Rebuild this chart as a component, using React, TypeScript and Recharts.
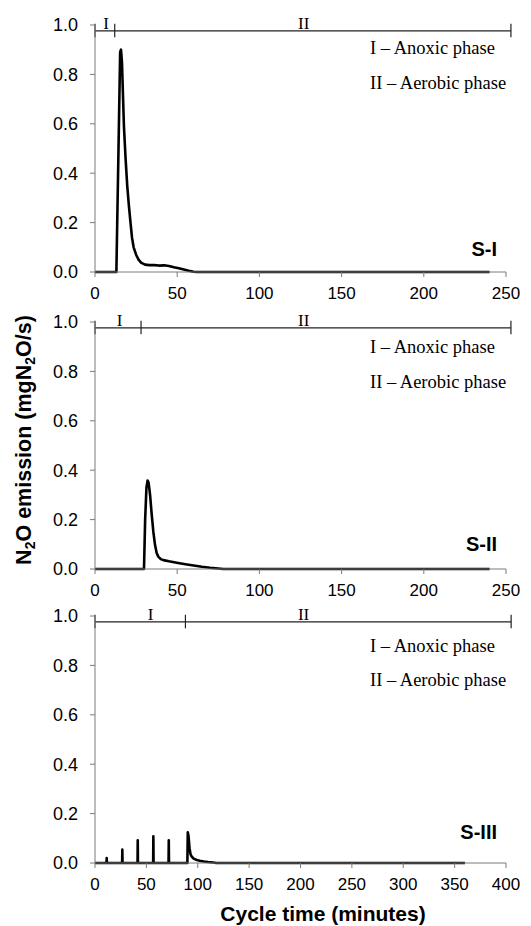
import React from 'react';
import { LineChart, Line, XAxis, YAxis, ReferenceLine, ReferenceDot } from 'recharts';

// ---- Data ----
const s1Time = [0, 13, 14.3, 15.3, 15.8, 16.4, 17.6, 18.6, 19.6, 20.6, 21.6, 22.5, 23.5, 25, 26.5, 28, 30.4, 33, 36, 39, 42, 45, 48, 51, 54, 57, 60, 62, 240];
const s1Value = [0, 0, 0.5, 0.89, 0.9, 0.85, 0.59, 0.46, 0.35, 0.27, 0.2, 0.14, 0.1, 0.07, 0.05, 0.038, 0.03, 0.028, 0.028, 0.026, 0.027, 0.024, 0.019, 0.015, 0.01, 0.005, 0.001, 0, 0];

const s2Time = [0, 29.8, 30.5, 31.3, 32, 32.6, 33.5, 34.5, 35.5, 36.5, 37.5, 38.5, 40, 41.6, 45, 49.7, 55, 60, 65, 70, 75, 78, 240];
const s2Value = [0, 0, 0.2, 0.33, 0.358, 0.35, 0.3, 0.22, 0.15, 0.098, 0.065, 0.05, 0.04, 0.036, 0.031, 0.025, 0.019, 0.014, 0.009, 0.005, 0.002, 0, 0];

const s3Time = [0, 11.2, 11.4, 11.6, 26.4, 26.6, 26.8, 41.4, 41.6, 41.8, 56.6, 56.8, 57.0, 71.6, 71.8, 72.0, 89.9, 90.3, 91, 92, 93, 94, 96, 99, 102, 106, 110, 115, 118, 360];
const s3Value = [0, 0, 0.02, 0, 0, 0.054, 0, 0, 0.092, 0, 0, 0.108, 0, 0, 0.092, 0, 0, 0.124, 0.11, 0.06, 0.035, 0.027, 0.018, 0.012, 0.009, 0.006, 0.004, 0.002, 0, 0];

const yTicks = [0, 0.2, 0.4, 0.6, 0.8, 1.0];
const xTicks250 = [0, 50, 100, 150, 200, 250];
const xTicks400 = [0, 50, 100, 150, 200, 250, 300, 350, 400];

// phase bar: start, boundary, end (minutes)
const s1Phases = [0, 12, 253];
const s2Phases = [0, 28, 253];
const s3Phases = [0, 88, 405];
const phaseNames = ['I', 'II'];
const s1PhaseLabelX = [6.7, 127];
const s2PhaseLabelX = [15, 127];
const s3PhaseLabelX = [54, 203];
const phaseBarY = 0.976;
const phaseTickY = [0.95, 1.005];

const legendLines = ['I \u2013 Anoxic phase', 'II \u2013 Aerobic phase'];
const panelNames = ['S-I', 'S-II', 'S-III'];

const sans = '"Liberation Sans", Arial, Helvetica, sans-serif';
const serif = '"Liberation Serif", "Times New Roman", Times, serif';
const axisColor = '#7a7a7a';

type PanelProps = {
  top: number;
  height: number;
  time: number[];
  value: number[];
  xMax: number;
  xTicks: number[];
  phases: number[];
  labelX: number[];
};

function Panel({ top, height, time, value, xMax, xTicks, phases, labelX }: PanelProps) {
  const data = time.map((t, i) => ({ t, v: value[i] }));
  return (
    <div style={{ position: 'absolute', left: 0, top, width: 531, height }}>
      <LineChart
        width={531}
        height={height}
        data={data}
        style={{ overflow: 'visible' }}
        margin={{ top: 25, right: 25, left: 35, bottom: height - 25 - 247 - 28 }}
      >
        <XAxis
          type="number"
          dataKey="t"
          domain={[0, xMax]}
          ticks={xTicks}
          interval={0}
          height={28}
          tickSize={5}
          tickMargin={10}
          stroke={axisColor}
          axisLine={{ stroke: axisColor }}
          tickLine={{ stroke: axisColor }}
          tick={{ fill: '#000', fontSize: 17, fontFamily: sans }}
          allowDataOverflow
        />
        <YAxis
          type="number"
          domain={[0, 1]}
          ticks={yTicks}
          interval={0}
          width={60}
          tickSize={5}
          tickMargin={12}
          stroke={axisColor}
          axisLine={{ stroke: axisColor }}
          tickLine={{ stroke: axisColor }}
          tick={{ fill: '#000', fontSize: 18, fontFamily: sans }}
          tickFormatter={(v: number) => v.toFixed(1)}
        />
        <ReferenceLine
          segment={[{ x: phases[0], y: phaseBarY }, { x: phases[phases.length - 1], y: phaseBarY }]}
          stroke="#222"
          strokeWidth={1.2}
          ifOverflow="visible"
        />
        {phases.map((p, i) => (
          <ReferenceLine
            key={'tk' + i}
            segment={[{ x: p, y: phaseTickY[0] }, { x: p, y: phaseTickY[1] }]}
            stroke="#222"
            strokeWidth={1.2}
            ifOverflow="visible"
          />
        ))}
        {labelX.map((lx, i) => (
          <ReferenceDot
            key={'pl' + i}
            x={lx}
            y={phaseBarY}
            r={0}
            fill="none"
            stroke="none"
            ifOverflow="visible"
            label={{ value: phaseNames[i], position: 'top', offset: 1.5, fill: '#000', fontSize: 17, fontFamily: serif }}
          />
        ))}
        <Line
          type="linear"
          dataKey="v"
          stroke="#000"
          strokeWidth={2.6}
          dot={false}
          isAnimationActive={false}
          strokeLinejoin="round"
        />
      </LineChart>
    </div>
  );
}

const legendBaselines = [[54.3, 88.7], [353.3, 387.7], [651.7, 686]];
const panelNameBaselines = [256, 550.7, 839.3];

export default function App() {
  return (
    <div style={{ position: 'absolute', left: 0, top: 0, width: 531, height: 926, background: '#fff' }}>
      <Panel top={0} height={312} time={s1Time} value={s1Value} xMax={250} xTicks={xTicks250} phases={s1Phases} labelX={s1PhaseLabelX} />
      <Panel top={297} height={310} time={s2Time} value={s2Value} xMax={250} xTicks={xTicks250} phases={s2Phases} labelX={s2PhaseLabelX} />
      <Panel top={591} height={318} time={s3Time} value={s3Value} xMax={400} xTicks={xTicks400} phases={s3Phases} labelX={s3PhaseLabelX} />
      <svg width={531} height={926} style={{ position: 'absolute', left: 0, top: 0, pointerEvents: 'none' }}>
        {legendBaselines.map((pair, pi) => (
          <g key={'lg' + pi}>
            {pair.map((b, li) => (
              <text key={li} x={370} y={b} fontFamily={serif} fontSize={18.5} fill="#000">
                {legendLines[li]}
              </text>
            ))}
            <text x={497} y={panelNameBaselines[pi]} textAnchor="end" fontFamily={sans} fontSize={20} fontWeight="bold" fill="#000">
              {panelNames[pi]}
            </text>
          </g>
        ))}
        <text transform="translate(31,440) rotate(-90)" textAnchor="middle" fontFamily={sans} fontSize={21.5} fontWeight="bold" fill="#000">
          N<tspan fontSize={14} dy={4}>2</tspan>
          <tspan dy={-4}>O emission (mgN</tspan>
          <tspan fontSize={14} dy={4}>2</tspan>
          <tspan dy={-4}>O/s)</tspan>
        </text>
        <text x={323} y={921} textAnchor="middle" fontFamily={sans} fontSize={21} fontWeight="bold" fill="#000">
          Cycle time (minutes)
        </text>
      </svg>
    </div>
  );
}
